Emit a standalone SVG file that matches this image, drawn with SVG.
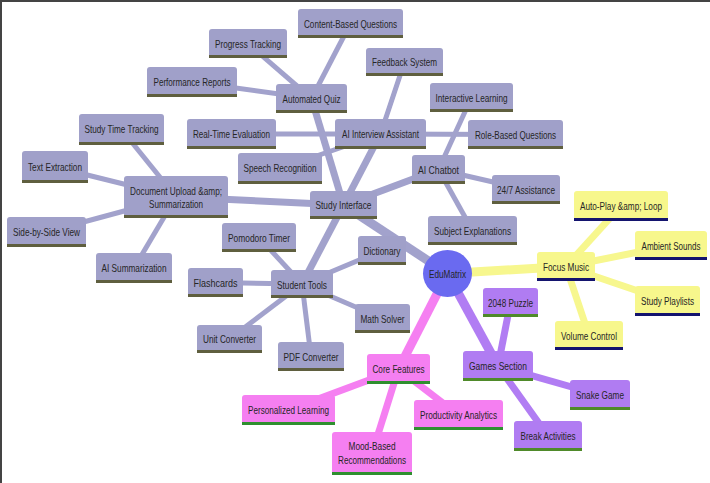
<svg xmlns="http://www.w3.org/2000/svg" width="710" height="483" viewBox="0 0 710 483">
<style>
text{font-family:"Liberation Sans",Arial,sans-serif;font-size:11.5px;fill:#262626;text-anchor:middle}
.lav rect{fill:#a0a0c9}.lav line{stroke:#5f5f3f;stroke-width:3}
.yel rect{fill:#f7f78c}.yel line{stroke:#14146e;stroke-width:3}
.pnk rect{fill:#f57ff1}.pnk line{stroke:#2f8f2f;stroke-width:3}
.pur rect{fill:#b07cf2}.pur line{stroke:#4f8a2a;stroke-width:3}
#connectors line{stroke-linecap:butt}
.e-lav{stroke:#a2a2cc}.e-yel{stroke:#f7f78e}.e-pnk{stroke:#f57ff1}.e-pur{stroke:#b17df3}
.d0{stroke-width:9}.d1{stroke-width:7}.d2{stroke-width:5}
</style>
<rect width="710" height="483" fill="#fff"/>
<line x1="0" y1="1" x2="710" y2="1" stroke="#444" stroke-width="2"/>
<line x1="1" y1="0" x2="1" y2="483" stroke="#444" stroke-width="2"/>
<g id="connectors">
<line class="e-lav d0" x1="447.5" y1="273.5" x2="343.5" y2="205"/>
<line class="e-yel d0" x1="447.5" y1="273.5" x2="566" y2="266.5"/>
<line class="e-pnk d0" x1="447.5" y1="273.5" x2="398.5" y2="369"/>
<line class="e-pur d0" x1="447.5" y1="273.5" x2="498" y2="366"/>
<line class="e-lav d1" x1="343.5" y1="205" x2="311.5" y2="98.5"/>
<line class="e-lav d1" x1="343.5" y1="205" x2="380.5" y2="134"/>
<line class="e-lav d1" x1="343.5" y1="205" x2="438.5" y2="169.5"/>
<line class="e-lav d1" x1="343.5" y1="205" x2="176" y2="197"/>
<line class="e-lav d1" x1="343.5" y1="205" x2="302" y2="284"/>
<line class="e-lav d2" x1="311.5" y1="98.5" x2="350.5" y2="23.5"/>
<line class="e-lav d2" x1="311.5" y1="98.5" x2="248" y2="43.5"/>
<line class="e-lav d2" x1="311.5" y1="98.5" x2="192" y2="82"/>
<line class="e-lav d2" x1="380.5" y1="134" x2="404.5" y2="62"/>
<line class="e-lav d2" x1="380.5" y1="134" x2="231.5" y2="134"/>
<line class="e-lav d2" x1="380.5" y1="134" x2="515.5" y2="134.5"/>
<line class="e-lav d2" x1="380.5" y1="134" x2="280" y2="168.5"/>
<line class="e-lav d2" x1="438.5" y1="169.5" x2="471.5" y2="97.5"/>
<line class="e-lav d2" x1="438.5" y1="169.5" x2="526" y2="189.5"/>
<line class="e-lav d2" x1="438.5" y1="169.5" x2="472.5" y2="230.5"/>
<line class="e-lav d2" x1="176" y1="197" x2="121.5" y2="129.5"/>
<line class="e-lav d2" x1="176" y1="197" x2="55" y2="167"/>
<line class="e-lav d2" x1="176" y1="197" x2="46.5" y2="232"/>
<line class="e-lav d2" x1="176" y1="197" x2="134" y2="268"/>
<line class="e-lav d2" x1="302" y1="284" x2="259" y2="237.5"/>
<line class="e-lav d2" x1="302" y1="284" x2="215.5" y2="282.5"/>
<line class="e-lav d2" x1="302" y1="284" x2="229.5" y2="339"/>
<line class="e-lav d2" x1="302" y1="284" x2="311" y2="356.5"/>
<line class="e-lav d2" x1="302" y1="284" x2="382.5" y2="318.5"/>
<line class="e-lav d2" x1="302" y1="284" x2="382" y2="250.5"/>
<line class="e-yel d1" x1="566" y1="266.5" x2="621" y2="206"/>
<line class="e-yel d1" x1="566" y1="266.5" x2="671" y2="245.5"/>
<line class="e-yel d1" x1="566" y1="266.5" x2="667.5" y2="301"/>
<line class="e-yel d1" x1="566" y1="266.5" x2="589" y2="335.5"/>
<line class="e-pur d1" x1="498" y1="366" x2="510.5" y2="302.5"/>
<line class="e-pur d1" x1="498" y1="366" x2="600" y2="395"/>
<line class="e-pur d1" x1="498" y1="366" x2="548" y2="436"/>
<line class="e-pnk d1" x1="398.5" y1="369" x2="288.5" y2="410"/>
<line class="e-pnk d1" x1="398.5" y1="369" x2="458.5" y2="415"/>
<line class="e-pnk d1" x1="398.5" y1="369" x2="372" y2="453.5"/>
</g>
<g id="study-interface" class="lav"><rect x="310" y="191" width="67" height="28" rx="3"/><line x1="310" y1="217.5" x2="377" y2="217.5"/><text x="343.5" y="209" textLength="56" lengthAdjust="spacingAndGlyphs">Study Interface</text></g>
<g id="automated-quiz" class="lav"><rect x="276" y="84" width="71" height="29" rx="3"/><line x1="276" y1="111.5" x2="347" y2="111.5"/><text x="311.5" y="102.5" textLength="58" lengthAdjust="spacingAndGlyphs">Automated Quiz</text></g>
<g id="content-based-questions" class="lav"><rect x="298" y="9" width="105" height="29" rx="3"/><line x1="298" y1="36.5" x2="403" y2="36.5"/><text x="350.5" y="27.5" textLength="93" lengthAdjust="spacingAndGlyphs">Content-Based Questions</text></g>
<g id="progress-tracking" class="lav"><rect x="209" y="29" width="78" height="29" rx="3"/><line x1="209" y1="56.5" x2="287" y2="56.5"/><text x="248" y="47.5" textLength="66" lengthAdjust="spacingAndGlyphs">Progress Tracking</text></g>
<g id="performance-reports" class="lav"><rect x="147" y="67" width="90" height="30" rx="3"/><line x1="147" y1="95.5" x2="237" y2="95.5"/><text x="192" y="86" textLength="77" lengthAdjust="spacingAndGlyphs">Performance Reports</text></g>
<g id="ai-interview-assistant" class="lav"><rect x="335" y="119" width="91" height="30" rx="3"/><line x1="335" y1="147.5" x2="426" y2="147.5"/><text x="380.5" y="138" textLength="77" lengthAdjust="spacingAndGlyphs">AI Interview Assistant</text></g>
<g id="feedback-system" class="lav"><rect x="366" y="48" width="77" height="28" rx="3"/><line x1="366" y1="74.5" x2="443" y2="74.5"/><text x="404.5" y="66" textLength="65" lengthAdjust="spacingAndGlyphs">Feedback System</text></g>
<g id="real-time-evaluation" class="lav"><rect x="187" y="119" width="89" height="30" rx="3"/><line x1="187" y1="147.5" x2="276" y2="147.5"/><text x="231.5" y="138" textLength="77" lengthAdjust="spacingAndGlyphs">Real-Time Evaluation</text></g>
<g id="role-based-questions" class="lav"><rect x="468" y="120" width="95" height="29" rx="3"/><line x1="468" y1="147.5" x2="563" y2="147.5"/><text x="515.5" y="138.5" textLength="81" lengthAdjust="spacingAndGlyphs">Role-Based Questions</text></g>
<g id="speech-recognition" class="lav"><rect x="238" y="153" width="84" height="31" rx="3"/><line x1="238" y1="182.5" x2="322" y2="182.5"/><text x="280" y="172" textLength="73" lengthAdjust="spacingAndGlyphs">Speech Recognition</text></g>
<g id="ai-chatbot" class="lav"><rect x="412" y="155" width="53" height="29" rx="3"/><line x1="412" y1="182.5" x2="465" y2="182.5"/><text x="438.5" y="173.5" textLength="41" lengthAdjust="spacingAndGlyphs">AI Chatbot</text></g>
<g id="interactive-learning" class="lav"><rect x="430" y="83" width="83" height="29" rx="3"/><line x1="430" y1="110.5" x2="513" y2="110.5"/><text x="471.5" y="101.5" textLength="72" lengthAdjust="spacingAndGlyphs">Interactive Learning</text></g>
<g id="assistance-247" class="lav"><rect x="492" y="175" width="68" height="29" rx="3"/><line x1="492" y1="202.5" x2="560" y2="202.5"/><text x="526" y="193.5" textLength="58" lengthAdjust="spacingAndGlyphs">24/7 Assistance</text></g>
<g id="subject-explanations" class="lav"><rect x="428" y="216" width="89" height="29" rx="3"/><line x1="428" y1="243.5" x2="517" y2="243.5"/><text x="472.5" y="234.5" textLength="77" lengthAdjust="spacingAndGlyphs">Subject Explanations</text></g>
<g id="document-upload" class="lav"><rect x="124" y="176" width="104" height="42" rx="3"/><line x1="124" y1="216.5" x2="228" y2="216.5"/><text x="176" y="194.5" textLength="92" lengthAdjust="spacingAndGlyphs">Document Upload &amp;amp;</text><text x="176" y="207.5" textLength="54" lengthAdjust="spacingAndGlyphs">Summarization</text></g>
<g id="study-time-tracking" class="lav"><rect x="79" y="114" width="85" height="31" rx="3"/><line x1="79" y1="143.5" x2="164" y2="143.5"/><text x="121.5" y="133" textLength="74" lengthAdjust="spacingAndGlyphs">Study Time Tracking</text></g>
<g id="text-extraction" class="lav"><rect x="22" y="151" width="66" height="32" rx="3"/><line x1="22" y1="181.5" x2="88" y2="181.5"/><text x="55" y="171" textLength="54" lengthAdjust="spacingAndGlyphs">Text Extraction</text></g>
<g id="side-by-side-view" class="lav"><rect x="7" y="217" width="79" height="30" rx="3"/><line x1="7" y1="245.5" x2="86" y2="245.5"/><text x="46.5" y="236" textLength="67" lengthAdjust="spacingAndGlyphs">Side-by-Side View</text></g>
<g id="ai-summarization" class="lav"><rect x="96" y="253" width="76" height="30" rx="3"/><line x1="96" y1="281.5" x2="172" y2="281.5"/><text x="134" y="272" textLength="65" lengthAdjust="spacingAndGlyphs">AI Summarization</text></g>
<g id="student-tools" class="lav"><rect x="271" y="270" width="62" height="28" rx="3"/><line x1="271" y1="296.5" x2="333" y2="296.5"/><text x="302" y="288.5" textLength="50" lengthAdjust="spacingAndGlyphs">Student Tools</text></g>
<g id="pomodoro-timer" class="lav"><rect x="222" y="223" width="74" height="29" rx="3"/><line x1="222" y1="250.5" x2="296" y2="250.5"/><text x="259" y="241.5" textLength="62" lengthAdjust="spacingAndGlyphs">Pomodoro Timer</text></g>
<g id="flashcards" class="lav"><rect x="188" y="268" width="55" height="29" rx="3"/><line x1="188" y1="295.5" x2="243" y2="295.5"/><text x="215.5" y="286.5" textLength="44" lengthAdjust="spacingAndGlyphs">Flashcards</text></g>
<g id="unit-converter" class="lav"><rect x="197" y="325" width="65" height="28" rx="3"/><line x1="197" y1="351.5" x2="262" y2="351.5"/><text x="229.5" y="343" textLength="53" lengthAdjust="spacingAndGlyphs">Unit Converter</text></g>
<g id="pdf-converter" class="lav"><rect x="278" y="342" width="66" height="29" rx="3"/><line x1="278" y1="369.5" x2="344" y2="369.5"/><text x="311" y="360.5" textLength="55" lengthAdjust="spacingAndGlyphs">PDF Converter</text></g>
<g id="math-solver" class="lav"><rect x="355" y="304" width="55" height="29" rx="3"/><line x1="355" y1="331.5" x2="410" y2="331.5"/><text x="382.5" y="322.5" textLength="44" lengthAdjust="spacingAndGlyphs">Math Solver</text></g>
<g id="dictionary" class="lav"><rect x="358" y="236" width="48" height="29" rx="3"/><line x1="358" y1="263.5" x2="406" y2="263.5"/><text x="382" y="254.5" textLength="37" lengthAdjust="spacingAndGlyphs">Dictionary</text></g>
<g id="focus-music" class="yel"><rect x="537" y="252" width="58" height="29" rx="3"/><line x1="537" y1="279.5" x2="595" y2="279.5"/><text x="566" y="270.5" textLength="46" lengthAdjust="spacingAndGlyphs">Focus Music</text></g>
<g id="auto-play-loop" class="yel"><rect x="574" y="191" width="94" height="30" rx="3"/><line x1="574" y1="219.5" x2="668" y2="219.5"/><text x="621" y="210" textLength="82" lengthAdjust="spacingAndGlyphs">Auto-Play &amp;amp; Loop</text></g>
<g id="ambient-sounds" class="yel"><rect x="635" y="231" width="72" height="29" rx="3"/><line x1="635" y1="258.5" x2="707" y2="258.5"/><text x="0" y="0" transform="translate(671 249.5) scale(0.7 1)">Ambient Sounds</text></g>
<g id="study-playlists" class="yel"><rect x="635" y="286" width="65" height="30" rx="3"/><line x1="635" y1="314.5" x2="700" y2="314.5"/><text x="0" y="0" transform="translate(667.5 305) scale(0.71 1)">Study Playlists</text></g>
<g id="volume-control" class="yel"><rect x="555" y="321" width="68" height="29" rx="3"/><line x1="555" y1="348.5" x2="623" y2="348.5"/><text x="589" y="339.5" textLength="56" lengthAdjust="spacingAndGlyphs">Volume Control</text></g>
<g id="games-section" class="pur"><rect x="463" y="351" width="70" height="30" rx="3"/><line x1="463" y1="379.5" x2="533" y2="379.5"/><text x="498" y="370" textLength="58" lengthAdjust="spacingAndGlyphs">Games Section</text></g>
<g id="puzzle-2048" class="pur"><rect x="483" y="288" width="55" height="29" rx="3"/><line x1="483" y1="315.5" x2="538" y2="315.5"/><text x="510.5" y="306.5" textLength="45" lengthAdjust="spacingAndGlyphs">2048 Puzzle</text></g>
<g id="snake-game" class="pur"><rect x="570" y="380" width="60" height="30" rx="3"/><line x1="570" y1="408.5" x2="630" y2="408.5"/><text x="600" y="399" textLength="48" lengthAdjust="spacingAndGlyphs">Snake Game</text></g>
<g id="break-activities" class="pur"><rect x="514" y="421" width="68" height="30" rx="3"/><line x1="514" y1="449.5" x2="582" y2="449.5"/><text x="548" y="440" textLength="55" lengthAdjust="spacingAndGlyphs">Break Activities</text></g>
<g id="core-features" class="pnk"><rect x="367" y="354" width="63" height="30" rx="3"/><line x1="367" y1="382.5" x2="430" y2="382.5"/><text x="398.5" y="373" textLength="52" lengthAdjust="spacingAndGlyphs">Core Features</text></g>
<g id="personalized-learning" class="pnk"><rect x="242" y="395" width="93" height="30" rx="3"/><line x1="242" y1="423.5" x2="335" y2="423.5"/><text x="288.5" y="414" textLength="81" lengthAdjust="spacingAndGlyphs">Personalized Learning</text></g>
<g id="productivity-analytics" class="pnk"><rect x="414" y="400" width="89" height="30" rx="3"/><line x1="414" y1="428.5" x2="503" y2="428.5"/><text x="458.5" y="419" textLength="77" lengthAdjust="spacingAndGlyphs">Productivity Analytics</text></g>
<g id="mood-based-recommendations" class="pnk"><rect x="332" y="432" width="80" height="43" rx="3"/><line x1="332" y1="473.5" x2="412" y2="473.5"/><text x="372" y="450" textLength="47" lengthAdjust="spacingAndGlyphs">Mood-Based</text><text x="372" y="464" textLength="68" lengthAdjust="spacingAndGlyphs">Recommendations</text></g>
<g id="edumatrix"><ellipse cx="447.5" cy="273.5" rx="24.5" ry="23.5" fill="#6a6af0"/><text x="447.5" y="277.5" textLength="37" lengthAdjust="spacingAndGlyphs">EduMatrix</text></g>
</svg>
